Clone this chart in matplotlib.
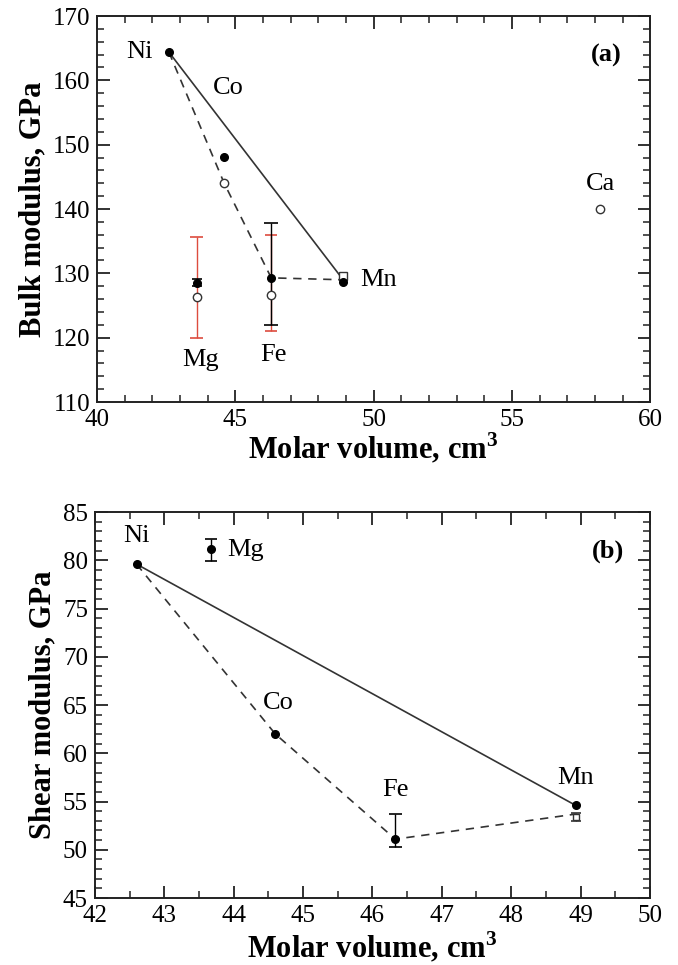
import numpy as np
import matplotlib
matplotlib.use('Agg')
import matplotlib.pyplot as plt
from matplotlib.ticker import MultipleLocator

plt.rcParams['font.family'] = ['Liberation Serif', 'DejaVu Serif']
plt.rcParams['mathtext.fontset'] = 'custom'
plt.rcParams['mathtext.bf'] = 'Liberation Serif:bold'
plt.rcParams['mathtext.rm'] = 'Liberation Serif'

# panel (a): bulk modulus
vol_a = {'Ni': 42.6, 'Co': 44.6, 'Mg': 43.6, 'Fe': 46.3, 'Mn': 48.9, 'Ca': 58.2}
K_filled = {'Ni': 164.4, 'Co': 148.1, 'Mg': 128.5, 'Fe': 129.3, 'Mn': 128.6}
K_open = {'Co': 144.0, 'Mg': 126.3, 'Fe': 126.6, 'Ca': 140.0}
K_mn_square = 129.6
K_mg_black_err = (128.0, 129.1)
K_mg_red_err = (119.9, 135.6)
K_fe_black_err = (122.0, 137.8)
K_fe_red_err = (121.0, 136.0)
K_solid = [('Ni', 164.4), ('Mn', 129.0)]
K_dashed = [('Ni', 164.4), ('Co', 144.0), ('Fe', 129.3), ('Mn', 129.0)]

# panel (b): shear modulus
vol_b = {'Ni': 42.6, 'Mg': 43.67, 'Co': 44.6, 'Fe': 46.33, 'Mn': 48.93}
G_filled = {'Ni': 79.6, 'Mg': 81.2, 'Co': 62.0, 'Fe': 51.1, 'Mn': 54.6}
G_mn_square = 53.4
G_mg_err = (79.9, 82.2)
G_fe_err = (50.3, 53.7)
G_solid = [('Ni', 79.6), ('Mn', 54.6)]
G_dashed = [('Ni', 79.6), ('Co', 62.0), ('Fe', 51.1), ('Mn', 53.7)]

line_col = '#333333'
red = '#dd4c3e'
xlab = r'Molar volume, cm$^{\mathbf{3}}$'

fig = plt.figure(figsize=(6.78, 9.65), dpi=100)
ax1 = fig.add_axes([0.143, 0.5834, 0.816, 0.4])
ax2 = fig.add_axes([0.140, 0.0694, 0.8186, 0.4])


def errbar(ax, x, lo, hi, color, cap):
    ax.vlines(x, lo, hi, color=color, lw=1.0, zorder=2)
    ax.hlines([lo, hi], x - cap, x + cap, color=color, lw=1.2, zorder=2)


# ---- (a)
ax1.plot([vol_a[n] for n, _ in K_solid], [v for _, v in K_solid], '-', color=line_col, lw=1.2)
ax1.plot([vol_a[n] for n, _ in K_dashed], [v for _, v in K_dashed], '--', color=line_col,
         lw=1.2, dashes=(5, 4))
errbar(ax1, vol_a['Mg'], *K_mg_red_err, red, 0.22)
errbar(ax1, vol_a['Fe'], *K_fe_red_err, red, 0.22)
errbar(ax1, vol_a['Fe'], *K_fe_black_err, 'black', 0.25)
errbar(ax1, vol_a['Mg'], *K_mg_black_err, 'black', 0.18)
ax1.plot([vol_a[n] for n in K_filled], list(K_filled.values()), 'o', color='black', ms=5.5, zorder=4)
ax1.plot([vol_a[n] for n in K_open], list(K_open.values()), 'o', mfc='white', mec='#333333',
         mew=1.0, ms=6, zorder=4)
ax1.plot([vol_a['Mn']], [K_mn_square], 's', mfc='white', mec='#333333', mew=1.0, ms=5.5, zorder=3)

fs = 19
txt = dict(fontsize=fs, ha='center', va='center')
ax1.text(41.55, 164.4, 'Ni', **txt)
ax1.text(44.75, 158.8, 'Co', **txt)
ax1.text(43.73, 116.5, 'Mg', **txt)
ax1.text(46.38, 117.3, 'Fe', **txt)
ax1.text(49.5, 128.9, 'Mn', fontsize=fs, ha='left', va='center')
ax1.text(58.2, 143.9, 'Ca', **txt)
ax1.text(58.4, 163.9, '(a)', fontsize=fs, fontweight='bold', ha='center', va='center')

ax1.set_xlim(40, 60)
ax1.set_ylim(110, 170)
ax1.xaxis.set_major_locator(MultipleLocator(5))
ax1.xaxis.set_minor_locator(MultipleLocator(1))
ax1.yaxis.set_major_locator(MultipleLocator(10))
ax1.yaxis.set_minor_locator(MultipleLocator(2))
ax1.set_xlabel(xlab, fontsize=22, fontweight='bold', labelpad=0)
ax1.set_ylabel('Bulk modulus, GPa', fontsize=22, fontweight='bold', labelpad=4)

# ---- (b)
ax2.plot([vol_b[n] for n, _ in G_solid], [v for _, v in G_solid], '-', color=line_col, lw=1.2)
ax2.plot([vol_b[n] for n, _ in G_dashed], [v for _, v in G_dashed], '--', color=line_col,
         lw=1.2, dashes=(5, 4))
errbar(ax2, vol_b['Mg'], *G_mg_err, 'black', 0.09)
errbar(ax2, vol_b['Fe'], *G_fe_err, 'black', 0.09)
ax2.plot([vol_b[n] for n in G_filled], list(G_filled.values()), 'o', color='black', ms=5.5, zorder=4)
ax2.plot([vol_b['Mn']], [G_mn_square], 's', mfc='white', mec='#333333', mew=1.0, ms=5, zorder=3)
errbar(ax2, vol_b['Mn'], G_mn_square - 0.45, G_mn_square + 0.45, '#333333', 0.07)

ax2.text(42.6, 82.5, 'Ni', **txt)
ax2.text(43.9, 81.1, 'Mg', fontsize=fs, ha='left', va='center')
ax2.text(44.64, 65.2, 'Co', **txt)
ax2.text(46.33, 56.2, 'Fe', **txt)
ax2.text(48.93, 57.4, 'Mn', **txt)
ax2.text(49.4, 80.9, '(b)', fontsize=fs, fontweight='bold', ha='center', va='center')

ax2.set_xlim(42, 50)
ax2.set_ylim(45, 85)
ax2.xaxis.set_major_locator(MultipleLocator(1))
ax2.xaxis.set_minor_locator(MultipleLocator(0.5))
ax2.yaxis.set_major_locator(MultipleLocator(5))
ax2.yaxis.set_minor_locator(MultipleLocator(1))
ax2.set_xlabel(xlab, fontsize=22, fontweight='bold', labelpad=2)
ax2.set_ylabel('Shear modulus, GPa', fontsize=22, fontweight='bold', labelpad=4)

for ax in (ax1, ax2):
    for s in ax.spines.values():
        s.set_linewidth(1.4)
        s.set_color('#222222')
    ax.tick_params(which='both', direction='in', top=True, right=True, labelsize=18,
                   color='#222222')
    ax.tick_params(which='major', length=9, width=1.3, pad=5)
    ax.tick_params(which='minor', length=5, width=1.1)

fig.savefig('out.png', dpi=100)
